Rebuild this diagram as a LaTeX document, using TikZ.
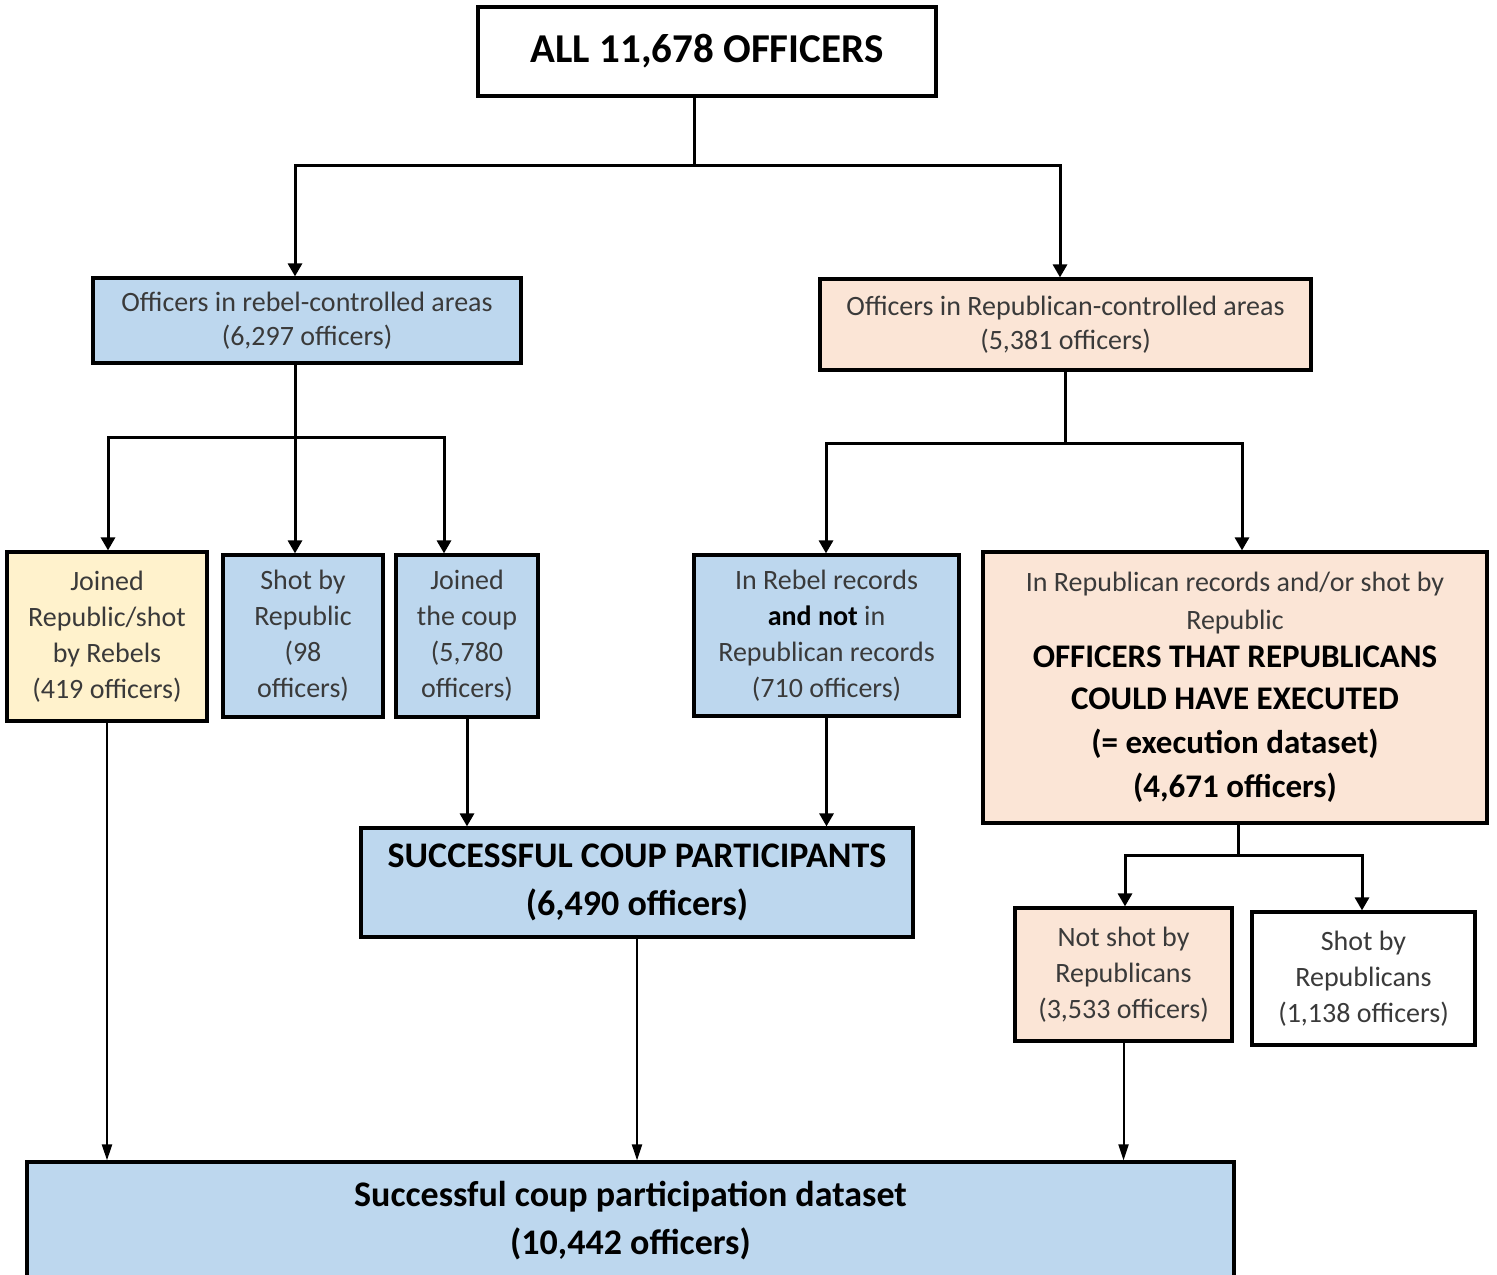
\documentclass[tikz,border=0pt]{standalone}
\usepackage{fontspec}
\setmainfont{Carlito}
\usetikzlibrary{arrows.meta}
\definecolor{boxblue}{HTML}{BDD7EE}
\definecolor{boxpeach}{HTML}{FBE5D6}
\definecolor{boxyellow}{HTML}{FFF2CC}
\definecolor{txtgray}{HTML}{3A3A3A}

\begin{document}
\begin{tikzpicture}[
        x=0.5pt, y=-0.5pt,
        box/.style={draw, line width=1.6pt, align=center, inner sep=1pt, text=txtgray,
          font=\fontsize{14}{18}\selectfont},
        bluebox/.style={box, fill=boxblue},
        peachbox/.style={box, fill=boxpeach},
        yellowbox/.style={box, fill=boxyellow},
        bigtext/.style={font=\bfseries\fontsize{18}{24}\selectfont, text=black},
        link/.style={line width=1.5pt},
        arr/.style={link, -{Triangle[length=6.5pt,width=7pt]}},
        thinarr/.style={line width=1pt, -{Triangle[length=8pt,width=5pt]}}
      ]
      \useasboundingbox (0,0) rectangle (1497,1274);
      \clip (0,0) rectangle (1497,1274);

      \node (all) [box, minimum width=229pt, minimum height=44.5pt,
        font=\bfseries\fontsize{20.5}{24}\selectfont, text=black] at (707,51.5) {ALL 11,678 OFFICERS};

      \node (rebel) [bluebox, minimum width=214pt, minimum height=42.5pt] at (307,320.5)
        {Officers in rebel-controlled areas\\[-1pt](6,297 officers)};
      \node (repub) [peachbox, minimum width=245.5pt, minimum height=45.5pt] at (1065.5,324.5)
        {Officers in Republican-controlled areas\\[-1pt](5,381 officers)};

      \node (joinrep) [yellowbox, minimum width=100pt, minimum height=84.5pt] at (107,636.5)
        {Joined\\Republic/shot\\by Rebels\\(419 officers)};
      \node (shotrep) [bluebox, minimum width=80pt, minimum height=81pt] at (303,636)
        {Shot by\\Republic\\(98\\officers)};
      \node (joincoup) [bluebox, minimum width=71pt, minimum height=81pt] at (467,636)
        {Joined\\the coup\\(5,780\\officers)};
      \node (rebrec) [bluebox, minimum width=132.5pt, minimum height=80.5pt] at (826.5,635.5)
        {In Rebel records\\{\bfseries\color{black}and not} in\\Republican records\\(710 officers)};
      \node (exec) [peachbox, minimum width=252pt, minimum height=135.5pt] at (1235,687.5)
        {In Republican records and/or shot by\\[1pt]Republic\\[1pt]
         {\bfseries\fontsize{16.5}{20}\selectfont\color{black}OFFICERS THAT REPUBLICANS}\\[3pt]
         {\bfseries\fontsize{16.5}{20}\selectfont\color{black}COULD HAVE EXECUTED}\\[4pt]
         {\bfseries\fontsize{16.5}{20}\selectfont\color{black}(= execution dataset)}\\[4pt]
         {\bfseries\fontsize{16.5}{20}\selectfont\color{black}(4,671 officers)}};

      \node (coup) [bluebox, bigtext, minimum width=276pt, minimum height=54.5pt] at (637,882.5)
        {SUCCESSFUL COUP PARTICIPANTS\\(6,490 officers)};
      \node (notshot) [peachbox, minimum width=108.5pt, minimum height=66.5pt] at (1123.5,974.5)
        {Not shot by\\Republicans\\(3,533 officers)};
      \node (shotreps) [box, fill=white, minimum width=111.5pt, minimum height=66.5pt] at (1363.5,978.5)
        {Shot by\\Republicans\\(1,138 officers)};

      \node (final) [bluebox, bigtext, minimum width=603.5pt, minimum height=59pt] at (630.5,1221)
        {Successful coup participation dataset\\(10,442 officers)};

      \coordinate (j1) at (694,165);
      \coordinate (j1l) at (295,165);
      \coordinate (j1r) at (1060,165);
      \coordinate (j2) at (295,437);
      \coordinate (j2l) at (108,437);
      \coordinate (j2r) at (444,437);
      \coordinate (j3) at (1065,443);
      \coordinate (j3l) at (826,443);
      \coordinate (j3r) at (1242,443);
      \coordinate (j4) at (1238,855);
      \coordinate (j4l) at (1125,855);
      \coordinate (j4r) at (1362,855);

      \draw[link] (all.south -| j1) -- (j1);
      \draw[arr] (j1) -| (rebel.north -| j1l);
      \draw[arr] (j1) -| (repub.north -| j1r);

      \draw[arr] (rebel.south -| j2) -- (shotrep.north -| j2);
      \draw[arr] (j2) -| (joinrep.north -| j2l);
      \draw[arr] (j2) -| (joincoup.north -| j2r);

      \draw[link] (repub.south -| j3) -- (j3);
      \draw[arr] (j3) -| (rebrec.north -| j3l);
      \draw[arr] (j3) -| (exec.north -| j3r);

      \draw[arr] (joincoup.south) -- (joincoup.south |- coup.north);
      \draw[arr] (rebrec.south) -- (rebrec.south |- coup.north);

      \draw[link] (exec.south -| j4) -- (j4);
      \draw[arr] (j4) -| (notshot.north -| j4l);
      \draw[arr] (j4) -| (shotreps.north -| j4r);

      \draw[thinarr] (joinrep.south) -- (joinrep.south |- final.north);
      \draw[thinarr] (coup.south) -- (coup.south |- final.north);
      \draw[thinarr] (notshot.south) -- (notshot.south |- final.north);
    \end{tikzpicture}
\end{document}
